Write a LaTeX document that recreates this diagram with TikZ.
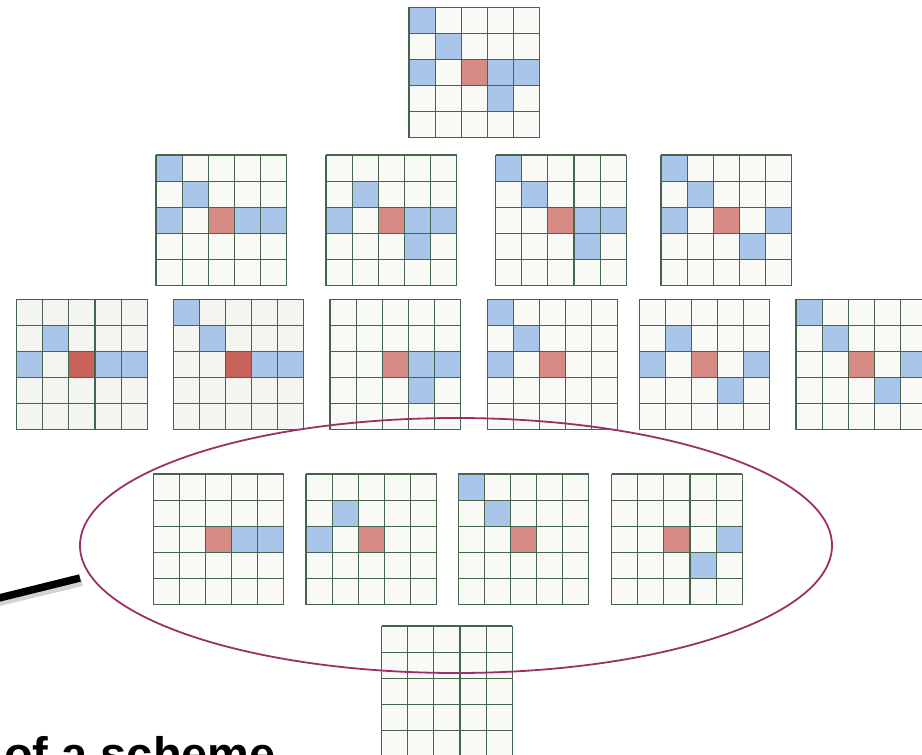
\documentclass[tikz,border=0pt]{standalone}
\usepackage{fontspec}
\setmainfont{Liberation Sans}
\definecolor{cellc}{HTML}{F9FAF5}
\definecolor{cellg}{HTML}{F4F5F0}
\definecolor{bluec}{HTML}{A9C5EA}
\definecolor{redc}{HTML}{D68C84}
\definecolor{dredc}{HTML}{C9635A}
\definecolor{linec}{HTML}{47644F}
\definecolor{ellc}{HTML}{9C2F66}
\tikzset{
  x=1pt, y=-1pt,
  gridline/.style={draw=linec, line width=1.1pt},
  bl/.style={fill=bluec},
  rd/.style={fill=redc},
  dr/.style={fill=dredc},
  ringline/.style={draw=ellc, line width=1.8pt},
  pointer/.style={draw=black, line width=7.5pt},
  pshadow/.style={draw=black!35, line width=8pt, opacity=0.5},
  caption/.style={inner sep=0pt, anchor=base west, font=\fontsize{47}{56}\selectfont\bfseries}
}
\def\cs{26.1}
\newcommand\mygrid[4]{%
  \begin{scope}[shift={(#1,#2)}]
    \fill[#4] (0,0) rectangle (130.5,130.5);
    \def\mycells{#3}%
    \ifx\mycells\empty\else
      \foreach \c/\r/\k in {#3} {\fill[\k] (\c*\cs,\r*\cs) rectangle ++(\cs,\cs);}
    \fi
    \foreach \i in {0,...,5} {
      \draw[gridline] (\i*\cs,0) -- (\i*\cs,130.5);
      \draw[gridline] (0,\i*\cs) -- (130.5,\i*\cs);
    }
  \end{scope}}
\begin{document}
\begin{tikzpicture}
\useasboundingbox (0,0) rectangle (922,755);
\clip (0,0) rectangle (922,755);
% top
\mygrid{409}{7.3}{0/0/bl,1/1/bl,0/2/bl,3/2/bl,4/2/bl,3/3/bl,2/2/rd}{cellc}
% row 2
\mygrid{156}{155}{0/0/bl,1/1/bl,0/2/bl,3/2/bl,4/2/bl,2/2/rd}{cellc}
\mygrid{326}{155}{1/1/bl,0/2/bl,3/2/bl,4/2/bl,3/3/bl,2/2/rd}{cellc}
\mygrid{495.7}{155}{0/0/bl,1/1/bl,3/2/bl,4/2/bl,3/3/bl,2/2/rd}{cellc}
\mygrid{661}{155}{0/0/bl,1/1/bl,0/2/bl,4/2/bl,3/3/bl,2/2/rd}{cellc}
% row 3
\mygrid{16.7}{299.3}{1/1/bl,0/2/bl,3/2/bl,4/2/bl,2/2/dr}{cellg}
\mygrid{173.3}{299.3}{0/0/bl,1/1/bl,3/2/bl,4/2/bl,2/2/dr}{cellg}
\mygrid{330}{299.3}{3/2/bl,4/2/bl,3/3/bl,2/2/rd}{cellc}
\mygrid{487.3}{299.3}{0/0/bl,1/1/bl,0/2/bl,2/2/rd}{cellc}
\mygrid{639.3}{299.3}{1/1/bl,0/2/bl,4/2/bl,3/3/bl,2/2/rd}{cellc}
\mygrid{796}{299.3}{0/0/bl,1/1/bl,4/2/bl,3/3/bl,2/2/rd}{cellc}
% row 4
\mygrid{153.3}{474}{3/2/bl,4/2/bl,2/2/rd}{cellc}
\mygrid{306}{474}{1/1/bl,0/2/bl,2/2/rd}{cellc}
\mygrid{458.3}{474}{0/0/bl,1/1/bl,2/2/rd}{cellc}
\mygrid{611.7}{474}{4/2/bl,3/3/bl,2/2/rd}{cellc}
% row 5
\mygrid{381.7}{626}{}{cellc}
% ring
\draw[ringline] (456,545.5) ellipse [x radius=376, y radius=127.5];
% pointer
\coordinate (ptrA) at (-5,599);
\coordinate (ptrB) at (80,578);
\coordinate (shA) at (-5,603);
\coordinate (shB) at (82,582);
\draw[pshadow] (shA) -- (shB);
\draw[pointer] (ptrA) -- (ptrB);
% caption
\node[caption] (cap) at (4,770) {of a scheme};
\end{tikzpicture}
\end{document}
